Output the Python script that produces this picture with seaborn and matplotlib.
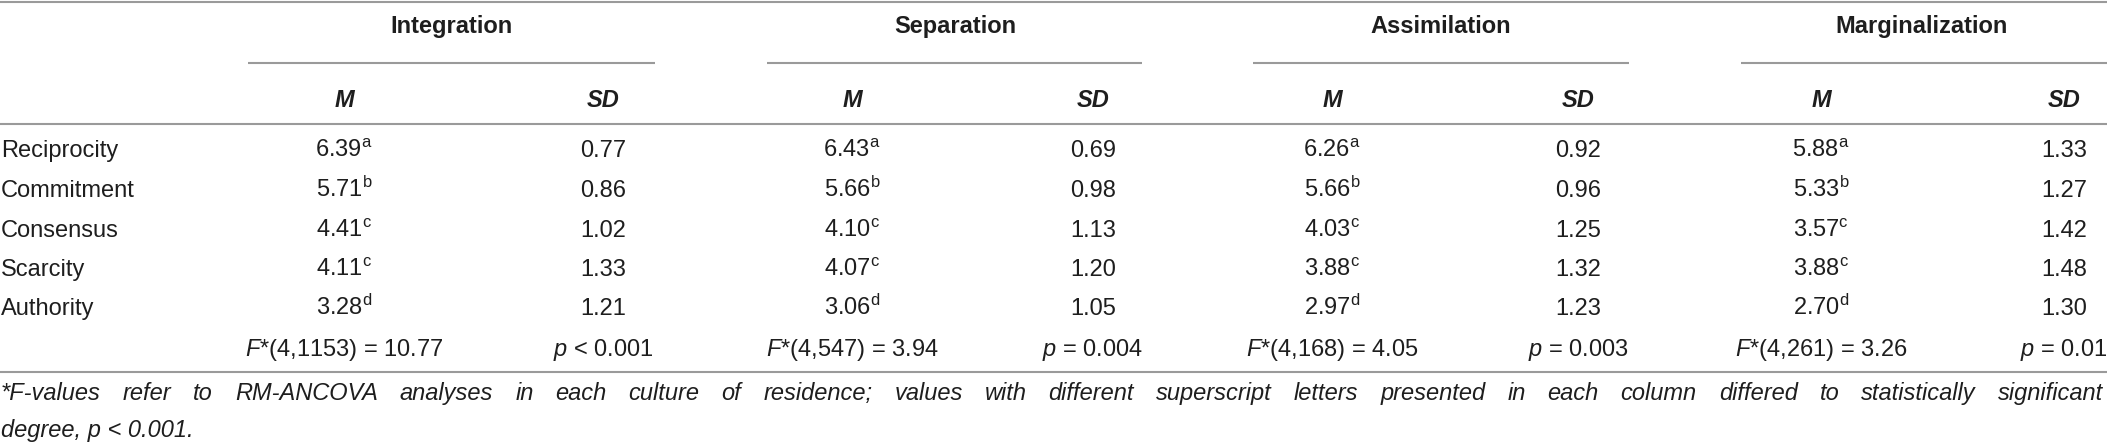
import matplotlib
matplotlib.use("Agg")
import matplotlib.pyplot as plt
import seaborn as sns

# --- table data ---
principles = ["Reciprocity", "Commitment", "Consensus", "Scarcity", "Authority"]
strategies = ["Integration", "Separation", "Assimilation", "Marginalization"]

integration_m = [6.39, 5.71, 4.41, 4.11, 3.28]
integration_sd = [0.77, 0.86, 1.02, 1.33, 1.21]
separation_m = [6.43, 5.66, 4.10, 4.07, 3.06]
separation_sd = [0.69, 0.98, 1.13, 1.20, 1.05]
assimilation_m = [6.26, 5.66, 4.03, 3.88, 2.97]
assimilation_sd = [0.92, 0.96, 1.25, 1.32, 1.23]
marginalization_m = [5.88, 5.33, 3.57, 3.88, 2.70]
marginalization_sd = [1.33, 1.27, 1.42, 1.48, 1.30]

letters = ["a", "b", "c", "c", "d"]

f_df = ["4,1153", "4,547", "4,168", "4,261"]
f_values = [10.77, 3.94, 4.05, 3.26]
p_texts = ["< 0.001", "= 0.004", "= 0.003", "= 0.01"]

footnote_1 = ("*F-values refer to RM-ANCOVA analyses in each culture of residence; values with different "
              "superscript letters presented in each column differed to statistically significant")
footnote_2 = "degree, p < 0.001."

means = [integration_m, separation_m, assimilation_m, marginalization_m]
sds = [integration_sd, separation_sd, assimilation_sd, marginalization_sd]

# --- layout (pixels) ---
W, H = 2107, 445
m_x = [344, 852, 1332, 1821]
sd_x = [603, 1093, 1578, 2064]
head_x = [451, 955, 1441, 1922]
under_spans = [(248, 655), (767, 1142), (1253, 1629), (1741, 2107)]
row_base = [157, 197, 237, 276, 315]
f_base = 356
head_base = 33
sub_base = 107
rule_y = [2, 124, 372]
under_y = 63
foot_base = [400, 437]
foot_right = 2103

sns.set_theme(style="white")
plt.rcParams["font.family"] = ["Liberation Sans", "DejaVu Sans"]
plt.rcParams["mathtext.fontset"] = "custom"
plt.rcParams["mathtext.rm"] = "Liberation Sans"
plt.rcParams["mathtext.it"] = "Liberation Sans:italic"
plt.rcParams["mathtext.bf"] = "Liberation Sans:bold"

fs = 17
ink = "#1e1e1e"
rule = "#9a9a9a"

fig = plt.figure(figsize=(W / 100, H / 100), dpi=100)
ax = fig.add_axes([0, 0, 1, 1])
ax.set_xlim(0, W)
ax.set_ylim(H, 0)
ax.axis("off")

# rules
for y in rule_y:
    ax.hlines(y, 0, W, color=rule, lw=1.5)
for x0, x1 in under_spans:
    ax.hlines(under_y, x0, x1, color=rule, lw=1.5)

# headers
for i, name in enumerate(strategies):
    ax.text(head_x[i], head_base, name, ha="center", va="baseline",
            fontsize=fs, fontweight="bold", color=ink)
    ax.text(m_x[i], sub_base, "M", ha="center", va="baseline",
            fontsize=fs, fontweight="bold", fontstyle="italic", color=ink)
    ax.text(sd_x[i], sub_base, "SD", ha="center", va="baseline",
            fontsize=fs, fontweight="bold", fontstyle="italic", color=ink)

# body
for r, label in enumerate(principles):
    ax.text(1, row_base[r], label, ha="left", va="baseline", fontsize=fs, color=ink)
    for i in range(len(strategies)):
        ax.text(m_x[i], row_base[r], f"{means[i][r]:.2f}$^{{\\mathrm{{{letters[r]}}}}}$",
                ha="center", va="baseline", fontsize=fs, color=ink)
        ax.text(sd_x[i], row_base[r], f"{sds[i][r]:.2f}",
                ha="center", va="baseline", fontsize=fs, color=ink)

# test statistics row
for i in range(len(strategies)):
    ax.text(m_x[i], f_base, f"$\\mathit{{F}}$*({f_df[i]}) = {f_values[i]:.2f}",
            ha="center", va="baseline", fontsize=fs, color=ink)
    ax.text(sd_x[i], f_base, f"$\\mathit{{p}}$ {p_texts[i]}",
            ha="center", va="baseline", fontsize=fs, color=ink)

# footnote: first line justified to the full width
renderer = fig.canvas.get_renderer()
words = footnote_1.split(" ")
word_texts = [ax.text(0, foot_base[0], w, ha="left", va="baseline",
                      fontsize=fs, fontstyle="italic", color=ink) for w in words]
widths = [t.get_window_extent(renderer).width for t in word_texts]
gap = (foot_right - 1 - sum(widths)) / (len(words) - 1)
x = 1
for t, w in zip(word_texts, widths):
    t.set_x(x)
    x += w + gap

ax.text(1, foot_base[1], footnote_2, ha="left", va="baseline",
        fontsize=fs, fontstyle="italic", color=ink)

fig.savefig("out.png", dpi=100)
